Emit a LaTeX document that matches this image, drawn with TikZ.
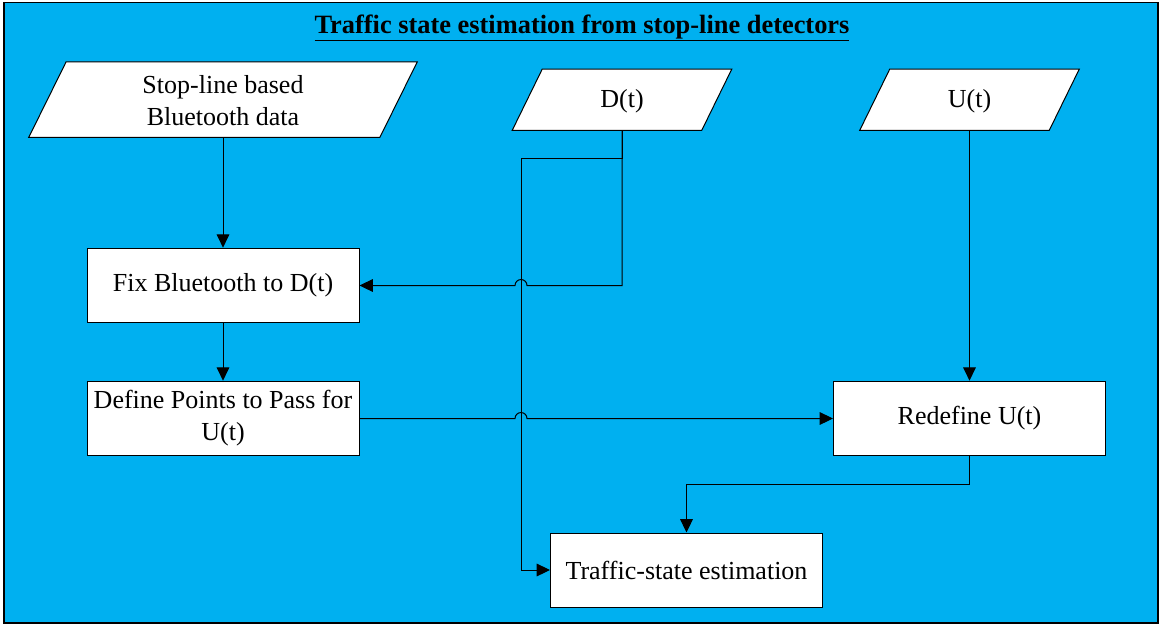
\documentclass[tikz,border=0pt]{standalone}
\usepackage{fontspec}
\setmainfont{Liberation Serif}
\usetikzlibrary{arrows.meta,calc}
\definecolor{bgcyan}{HTML}{00B0F0}
\begin{document}
\begin{tikzpicture}[x=0.75pt,y=-0.75pt,
  txt/.style={font=\fontsize{19.5}{24}\selectfont},
  box/.style={draw=black, fill=white, line width=0.75pt, minimum width=204pt, minimum height=56pt, inner sep=2pt, align=center, txt},
  para/.style={draw=none, inner sep=0pt, align=center, txt},
  pshape/.style={draw=black, fill=white, line width=0.75pt, line join=miter},
  conn/.style={draw=black, line width=0.75pt},
  arrow/.style={conn, -{Triangle[length=10pt,width=9.5pt]}}
]
\useasboundingbox (0,0) rectangle (1160,626);
\draw[fill=bgcyan, draw=black, line width=0.9pt] (4,2.5) rectangle (1158,623);
\node[font=\fontsize{19.8}{24}\selectfont\bfseries] (title) at (582,28) {\underline{Traffic state estimation from stop-line detectors}};

% parallelograms (bounding nodes)
\node[para, minimum width=291pt, minimum height=56.25pt] (p1) at (223,99.6) {};
\draw[pshape] ($(p1.north west)+(37.4,0)$) -- (p1.north east) -- ($(p1.south east)-(37.4,0)$) -- (p1.south west) -- cycle;
\node[para] (p1t) at ($(p1)+(0,1)$) {Stop-line based\\Bluetooth data};

\node[para, minimum width=164.25pt, minimum height=45.5pt] (dt) at (622,99.7) {};
\draw[pshape] ($(dt.north west)+(30,0)$) -- (dt.north east) -- ($(dt.south east)-(30,0)$) -- (dt.south west) -- cycle;
\node[para] (dtt) at ($(dt)+(0,2)$) {D(t)};

\node[para, minimum width=164.25pt, minimum height=45.5pt] (ut) at (969.5,99.7) {};
\draw[pshape] ($(ut.north west)+(30,0)$) -- (ut.north east) -- ($(ut.south east)-(30,0)$) -- (ut.south west) -- cycle;
\node[para] (utt) at ($(ut)+(0,2)$) {U(t)};

% boxes
\node[box] (fix) at (223,285.5) {\raisebox{-2pt}{Fix Bluetooth to D(t)}};
\node[box] (def) at (223,418.5) {Define Points to Pass for\\U(t)};
\node[box] (red) at (969.5,418.5) {\raisebox{-2pt}{Redefine U(t)}};
\node[box, minimum height=55.5pt] (tse) at (686.5,570) {Traffic-state estimation};

% junction coordinates
\coordinate (split) at (622,158);
\coordinate (bus) at (521,158);

% connectors
\draw[arrow] (p1.south) -- (fix.north);
\draw[arrow] (fix.south) -- (def.north);
\draw[arrow] (dt.south) -- (dt.south |- fix.east) -- ($(bus |- fix.east)+(6,0)$) arc[start angle=0, end angle=-180, radius=6] -- (fix.east);
\draw[arrow] (dt.south) -- (split) -- (bus) |- (tse.west);
\draw[arrow] (def.east) -- ($(bus |- def.east)-(6,0)$) arc[start angle=180, end angle=360, radius=6] -- (red.west);
\draw[arrow] (ut.south) -- (red.north);
\draw[arrow] (red.south) -- ++(0,28) -| (tse.north);
\end{tikzpicture}
\end{document}
